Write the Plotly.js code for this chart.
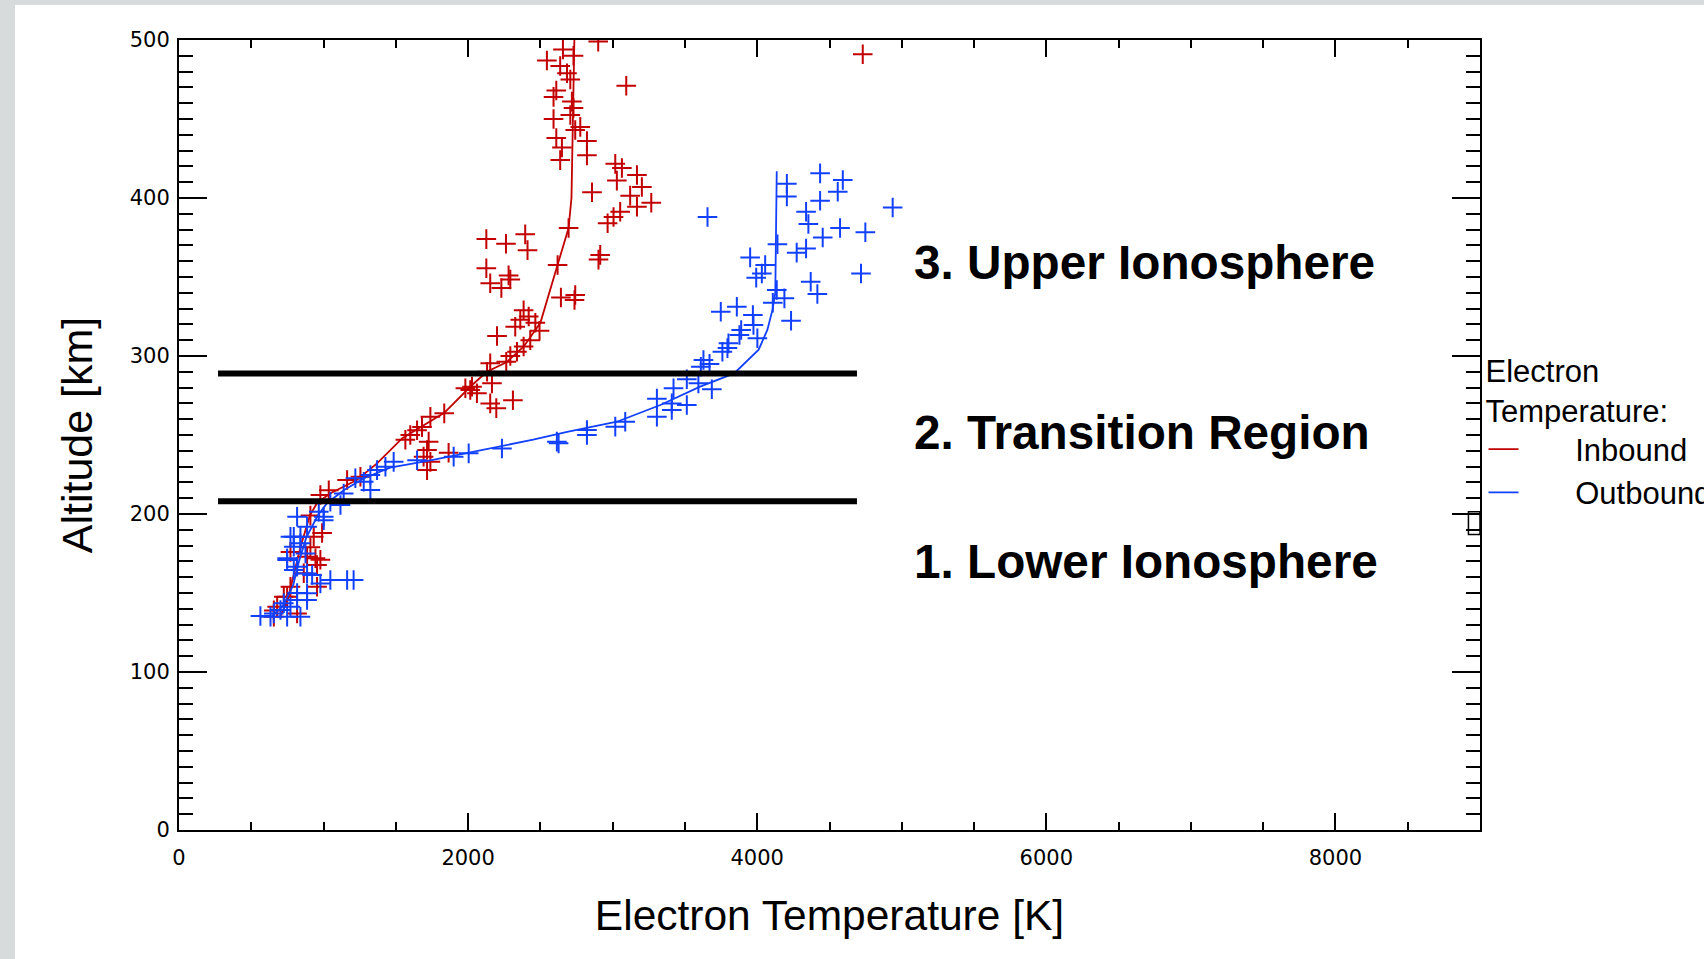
<!DOCTYPE html>
<html>
<head>
<meta charset="utf-8">
<script src="https://cdn.plot.ly/plotly-3.0.1.min.js"></script>
<style>
  html, body { margin:0; padding:0; background:#d8dbdb; overflow:hidden; width:1704px; height:959px; }
  #panel { position:absolute; left:15px; top:5px; width:1689px; height:954px; background:#ffffff; }
  #plot { width:1689px; height:954px; }
</style>
</head>
<body>
<div id="panel"><div id="plot"></div></div>
<script>
// ---- Inbound (red) measured electron temperatures [K] and altitudes [km]
const inboundT = [2656,2900,2729,2545,2637,2684,2707,3094,2610,2591,2718,2729,2707,2591,2776,2741,2610,2822,2649,2822,2637,3018,3064,3168,3029,3202,2857,3121,3267,3168,3052,3006,2965,2695,2395,2411,2914,2902,4730,
  2126,2262,2126,2280,2292,2153,2230,2619,2642,2741,2736,2384,2419,2361,2465,2326,2494,2200,2430,2384,2338,2292,2264,2153,2131,2165,2027,1981,2061,2153,2195,2310,1835,
  2015,1739,1681,1647,1600,1566,1727,1716,1692,1739,1716,1865,1163,1255,1036,978,
  909,990,932,978,955,771,944,909,886,863,955,771,748,725,679,656,656,817];
const inboundAlt = [494,499,490,487,483.5,479,475,471,468,464,461,457,452.5,450,445,443,438,436,432,427,424,421.6,419,414.6,411,407,403.6,401.5,397,394.5,391.3,388,384,381,377,367,364,361,491,
  374,371,355.5,351,348.4,346,343,357.6,337,338.6,335.4,329,325,323,321,318.5,316,312.7,310,306,302.7,300,296.4,295.4,290,282.7,280.6,279.6,276.4,270,267,272,263.7,
  278.5,261.5,255,253,250,247,245.8,240.5,236.3,233,227.8,238.8,221.5,223.6,215,212,
  199,188,185.6,171,167.7,176,172,179,173,162.5,154,154,147.7,147.7,141.3,139,135,137];

// ---- Outbound (blue) measured electron temperatures [K] and altitudes [km]
const outboundT = [3656,4205,4205,4435,4592,4557,4435,4338,4354,4937,4453,4573,4748,4140,4338,4273,3951,4055,4032,3993,4718,4370,4416,4135,4188,4108,4234,3748,3859,3970,3974,3889,3877,4001,3801,3794,3759,3628,3670,3610,3513,3593,3686,
  3421,3306,3409,3513,3409,3306,3087,3018,2822,2822,2626,2614,2234,
  2004,1900,1647,1485,1428,1370,1324,1278,1324,1220,1139,1117,1047,967,817,1001,1001,886,794,840,748,875,794,921,978,1047,1163,1208,886,817,771,702,656,563,633,748,840,725,840,794,
  771,748,817,886,817,886];
const outboundAlt = [388,409,401,415.6,411.4,404,398.3,391.3,383.5,394,375,381,378.3,370.7,368,365.4,362.4,357.6,352.2,349.6,352.2,347,339.2,341.8,336.5,333.7,322.3,328,331.2,325.9,319.6,316.5,313.3,311.2,308,305,302.7,297.5,295,293.2,285.3,282.7,279,
  279.6,273,270,269,265.8,261.6,258.4,255.3,253.2,250,244.7,245.8,241.5,
  238.4,236.3,234,233,229.9,227.8,224.7,220.4,215.2,222.6,213,205.7,207.8,201.5,198.3,198.3,196,192,185.6,181.5,170.9,175,164.6,161.4,156,158.2,158.2,158.2,149.8,145.6,141.3,139.2,137.1,135.4,135,135,135,143.5,185.6,179.3,
  185.6,172,166.6,162.4,150,145.6];

// ---- Fitted profiles
const inboundFitT   = [700,750,795,840,905,955,1045,1230,1370,1545,1835,2020,2130,2265,2385,2500,2620,2695,2715,2725,2735];
const inboundFitAlt = [135,145,162,179,199,207,213,221.5,232,248,264,281,290,296,306,321,358,381,400,450,500];
const outboundFitT   = [640,720,790,830,880,960,1025,1140,1280,1460,1740,2150,2450,2685,3030,3330,3605,3840,4010,4070,4105,4125,4130,4135];
const outboundFitAlt = [135,142,155,170,185,199,207,215,222.6,229.4,234,241.5,247,252,258.4,269,280.6,289,304,316.5,329,340,370,417];

// ---- Region boundaries and labels
const boundaryAlts = [208, 289];
const boundaryT = [270, 4690];
const regionLabels = ["3. Upper Ionosphere", "2. Transition Region", "1. Lower Ionosphere"];
const regionLabelAlt = [359.4, 251.7, 170];
const regionLabelT = 5070;

const xTicks = [0, 2000, 4000, 6000, 8000];
const yTicks = [0, 100, 200, 300, 400, 500];

const RED = '#c20000';
const BLUE = '#1240ff';
const NB = '\u00a0\u00a0\u00a0\u00a0\u00a0\u00a0';

const traces = [
  { x: inboundT, y: inboundAlt, type:'scatter', mode:'markers', showlegend:false, hoverinfo:'skip',
    marker:{symbol:'cross-thin', size:14, line:{width:2, color:RED}} },
  { x: inboundFitT, y: inboundFitAlt, type:'scatter', mode:'lines', name: NB + 'Inbound',
    line:{color:RED, width:1.8} },
  { x: outboundT, y: outboundAlt, type:'scatter', mode:'markers', showlegend:false, hoverinfo:'skip',
    marker:{symbol:'cross-thin', size:14, line:{width:2, color:BLUE}} },
  { x: outboundFitT, y: outboundFitAlt, type:'scatter', mode:'lines', name: NB + 'Outbound',
    line:{color:BLUE, width:1.8} }
];
boundaryAlts.forEach(a => {
  traces.push({ x: boundaryT, y: [a, a], type:'scatter', mode:'lines', showlegend:false, hoverinfo:'skip',
    line:{color:'#000', width:6} });
});

const tickFont = {family:'DejaVu Sans', size:21, color:'#000'};
const layout = {
  width:1689, height:954,
  margin:{l:163.5, r:224, t:35.3, b:129, autoexpand:false},
  paper_bgcolor:'#ffffff', plot_bgcolor:'#ffffff',
  font:{family:'Liberation Sans', color:'#000'},
  xaxis:{
    range:[0,9000], tickvals:xTicks, ticktext:xTicks.map(String),
    ticks:'inside', ticklen:17, tickwidth:2, tickcolor:'#000',
    minor:{dtick:500, tick0:0, ticks:'inside', ticklen:8, tickwidth:2, tickcolor:'#000', showgrid:false},
    mirror:'ticks', showline:true, linewidth:2, linecolor:'#000',
    showgrid:false, zeroline:false, tickfont:tickFont, ticklabelstandoff:8,
    title:{text:'Electron Temperature [K]', font:{family:'Liberation Sans', size:42.5, color:'#000'}, standoff:31}
  },
  yaxis:{
    range:[0,500], tickvals:yTicks, ticktext:yTicks.map(String),
    ticks:'inside', ticklen:28, tickwidth:2, tickcolor:'#000',
    minor:{dtick:10, tick0:0, ticks:'inside', ticklen:14, tickwidth:2, tickcolor:'#000', showgrid:false},
    mirror:'ticks', showline:true, linewidth:2, linecolor:'#000',
    showgrid:false, zeroline:false, tickfont:tickFont, ticklabelstandoff:3,
    title:{text:'Altitude [km]', font:{family:'Liberation Sans', size:43, color:'#000'}, standoff:24}
  },
  showlegend:true,
  legend:{
    x:1.0027, xanchor:'left', y:0.618, yanchor:'top',
    bgcolor:'rgba(0,0,0,0)', borderwidth:0,
    font:{family:'Liberation Sans', size:31, color:'#000'},
    title:{text:'Electron<br>Temperature:', font:{family:'Liberation Sans', size:31, color:'#000'}, side:'top'},
    tracegroupgap:0, itemwidth:30
  },
  annotations: regionLabels.map((t,i) => ({
    text:t, x:regionLabelT, y:regionLabelAlt[i], xref:'x', yref:'y', xanchor:'left', yanchor:'middle',
    showarrow:false, font:{family:'Liberation Sans', size:47.7, weight:'bold', color:'#000'}
  })),
  shapes:[
    {type:'rect', xref:'x', yref:'y', x0:8920, x1:9000, y0:187, y1:201.5, line:{color:'#000', width:1.5}}
  ]
};

Plotly.newPlot('plot', traces, layout, {staticPlot:true, displayModeBar:false});
</script>
</body>
</html>
